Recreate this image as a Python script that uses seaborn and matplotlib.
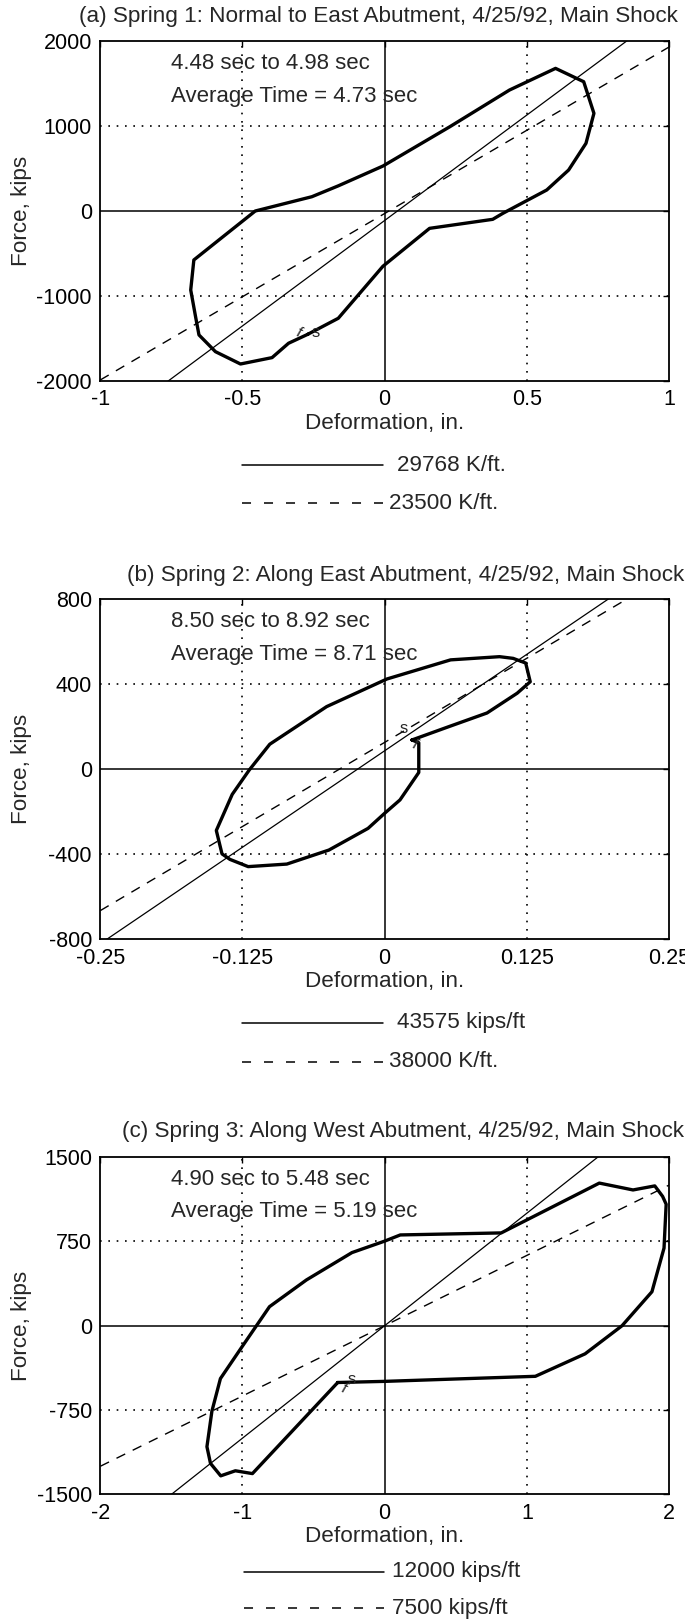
import numpy as np
import pandas as pd
import matplotlib
matplotlib.use("Agg")
import matplotlib.pyplot as plt
from matplotlib.lines import Line2D
import seaborn as sns

# ---------------------------------------------------------------- data
# Spring 1: normal to east abutment (deformation in., force kips)
s1_disp = [-0.27, -0.163, -0.006, 0.158, 0.380, 0.416, 0.570, 0.647, 0.708, 0.736,
           0.700, 0.601, 0.439, 0.229, -0.006, -0.163, -0.256, -0.455, -0.583,
           -0.671, -0.682, -0.665, -0.653, -0.595, -0.507, -0.396, -0.338, -0.27]
s1_force = [-1450, -1262, -650, -204, -98, -27, 247, 482, 796, 1149,
            1521, 1678, 1423, 991, 529, 296, 168, 0, -341,
            -576, -929, -1243, -1458, -1655, -1800, -1725, -1556, -1450]

# Spring 2: along east abutment
s2_disp = [0.024, 0.030, 0.030, 0.0135, 0.0, -0.0146, -0.049, -0.086, -0.120, -0.136,
           -0.143, -0.148, -0.134, -0.119, -0.101, -0.051, 0.002, 0.058, 0.101, 0.113,
           0.124, 0.128, 0.1165, 0.090, 0.055, 0.024]
s2_force = [138, 125, -15, -144, -207, -278, -380, -446, -458, -424,
            -398, -288, -118, -3, 118, 295, 425, 515, 530, 522,
            500, 412, 358, 265, 198, 138]

# Spring 3: along west abutment
s3_disp = [-0.33, 0.0, 1.06, 1.41, 1.67, 1.88, 1.965, 1.98, 1.955, 1.90,
           1.747, 1.51, 0.82, 0.11, 0.0, -0.23, -0.55, -0.81, -1.01, -1.155,
           -1.215, -1.25, -1.225, -1.153, -1.05, -0.93, -0.33]
s3_force = [-505, -495, -450, -250, 0, 302, 690, 1080, 1150, 1243,
            1207, 1268, 825, 807, 752, 650, 407, 169, -200, -470,
            -760, -1076, -1224, -1335, -1290, -1315, -505]

titles = ["(a) Spring 1: Normal to East Abutment, 4/25/92, Main Shock",
          "(b) Spring 2: Along East Abutment, 4/25/92, Main Shock",
          "(c) Spring 3: Along West Abutment, 4/25/92, Main Shock"]
windows = ["4.48 sec to 4.98 sec", "8.50 sec to 8.92 sec", "4.90 sec to 5.48 sec"]
avg_times = ["Average Time = 4.73 sec", "Average Time = 8.71 sec", "Average Time = 5.19 sec"]

# stiffness lines, kips/ft, and their zero-force deformation (in.)
k_solid = [29768, 43575, 12000]
k_dashed = [23500, 38000, 7500]
x0_solid = [0.045, -0.024, 0.0]
x0_dashed = [0.015, -0.040, 0.0]
lab_solid = ["29768 K/ft.", "43575 kips/ft", "12000 kips/ft"]
lab_dashed = ["23500 K/ft.", "38000 K/ft.", "7500 kips/ft"]

x_ticks = [[-1, -0.5, 0, 0.5, 1], [-0.25, -0.125, 0, 0.125, 0.25], [-2, -1, 0, 1, 2]]
x_ticklabels = [["-1", "-0.5", "0", "0.5", "1"],
                ["-0.25", "-0.125", "0", "0.125", "0.25"],
                ["-2", "-1", "0", "1", "2"]]
y_ticks = [[-2000, -1000, 0, 1000, 2000], [-800, -400, 0, 400, 800],
           [-1500, -750, 0, 750, 1500]]

# text positions in data units
txt_x = [-0.752, -0.188, -1.502]
txt_y1 = [1737, 695, 1296]
txt_y2 = [1344, 538, 1014]
s_pos = [(-0.257, -1435), (0.013, 190), (-0.264, -474)]
f_pos = [(-0.32, -1435), (0.022, 115), (-0.325, -560)]

loops = [(s1_disp, s1_force), (s2_disp, s2_force), (s3_disp, s3_force)]

# ---------------------------------------------------------------- layout (pixels)
W, H = 685, 1623
ax_left, ax_right = 100.3, 669.0
ax_rows = [(41.0, 381.0), (599.3, 939.3), (1157.0, 1494.4)]
title_left = [78.6, 126.6, 122.0]
title_y = [16.7, 575.0, 1131.7]
leg_solid_y = [465.0, 1022.7, 1571.7]
leg_dash_y = [503.3, 1061.7, 1608.3]
leg_x0 = [241.5, 241.5, 243.7]
leg_x1 = [383.4, 383.4, 384.3]
leg_txt_solid = [397.4, 397.4, 392.0]
leg_txt_dash = [388.6, 388.6, 392.0]

sns.set_theme(style="white")
plt.rcParams["font.family"] = ["Liberation Sans", "DejaVu Sans"]
plt.rcParams["axes.edgecolor"] = "black"
plt.rcParams["axes.linewidth"] = 1.3

FS_TICK = 15.5
FS = 16.2
fig = plt.figure(figsize=(W / 100, H / 100), dpi=100)
fig.patch.set_facecolor("white")


def fx(px):
    return px / W


def fy(py):
    return 1 - py / H


DOT = (0, (1, 4))
DASH = (0, (7, 6))
KEY_DASH = (0, (5.9, 8.5))

for i in range(3):
    top, bot = ax_rows[i]
    ax = fig.add_axes([fx(ax_left), fy(bot), (ax_right - ax_left) / W, (bot - top) / H])
    xt, yt = x_ticks[i], y_ticks[i]
    xlim = (xt[0], xt[-1])
    ax.set_xlim(*xlim)
    ax.set_ylim(yt[0], yt[-1])

    # dotted grid at interior ticks, solid reference axes through zero
    for v in xt[1:-1]:
        if v == 0:
            ax.axvline(0, color="black", lw=1.1, zorder=1)
        else:
            ax.axvline(v, color="black", lw=1.2, linestyle=DOT, zorder=1)
    for v in yt[1:-1]:
        if v == 0:
            ax.axhline(0, color="black", lw=1.1, zorder=1)
        else:
            ax.axhline(v, color="black", lw=1.2, linestyle=DOT, zorder=1)

    # stiffness lines
    xs = np.array(xlim, dtype=float)
    ks = k_solid[i] / 12.0
    kd = k_dashed[i] / 12.0
    sns.lineplot(x=xs, y=ks * (xs - x0_solid[i]), ax=ax, color="black", lw=0.9,
                 estimator=None, sort=False, zorder=2)
    sns.lineplot(x=xs, y=kd * (xs - x0_dashed[i]), ax=ax, color="black", lw=1.0,
                 linestyle=DASH, estimator=None, sort=False, zorder=2)

    # hysteresis loop
    d, f = loops[i]
    df = pd.DataFrame({"disp": d, "force": f})
    sns.lineplot(data=df, x="disp", y="force", ax=ax, color="black", lw=2.4,
                 estimator=None, sort=False, zorder=3)

    ax.text(s_pos[i][0], s_pos[i][1], "s", fontsize=12, ha="left", va="center", zorder=4)
    ax.text(f_pos[i][0], f_pos[i][1], "f", fontsize=11, ha="left", va="center",
            rotation=-30, zorder=4)

    ax.text(txt_x[i], txt_y1[i], windows[i], fontsize=16, ha="left", va="center")
    ax.text(txt_x[i], txt_y2[i], avg_times[i], fontsize=16, ha="left", va="center")

    ax.set_xticks(xt)
    ax.set_xticklabels(x_ticklabels[i])
    ax.set_yticks(yt)
    ax.set_yticklabels([str(v) for v in yt])
    ax.tick_params(direction="in", length=4, width=1, top=True, right=True,
                   labelsize=FS_TICK, pad=6, colors="black")
    for sp in ax.spines.values():
        sp.set_visible(True)
        sp.set_color("black")
    ax.set_xlabel("")
    ax.set_ylabel("")

    fig.text(fx((ax_left + ax_right) / 2), fy(bot + 42), "Deformation, in.",
             fontsize=FS, ha="center", va="center")
    fig.text(fx(22), fy((top + bot) / 2), "Force, kips", fontsize=FS,
             rotation=90, ha="center", va="center")
    fig.text(fx(title_left[i]), fy(title_y[i]), titles[i], fontsize=FS,
             ha="left", va="center")

    # key for the two stiffness lines
    fig.add_artist(Line2D([fx(leg_x0[i]), fx(leg_x1[i])], [fy(leg_solid_y[i])] * 2,
                          color="black", lw=1.1))
    fig.add_artist(Line2D([fx(leg_x0[i]), fx(leg_x1[i])], [fy(leg_dash_y[i])] * 2,
                          color="black", lw=1.1, linestyle=KEY_DASH))
    fig.text(fx(leg_txt_solid[i]), fy(leg_solid_y[i]), lab_solid[i], fontsize=FS,
             ha="left", va="center")
    fig.text(fx(leg_txt_dash[i]), fy(leg_dash_y[i]), lab_dashed[i], fontsize=FS,
             ha="left", va="center")

fig.savefig("out.png", dpi=100, facecolor="white")
